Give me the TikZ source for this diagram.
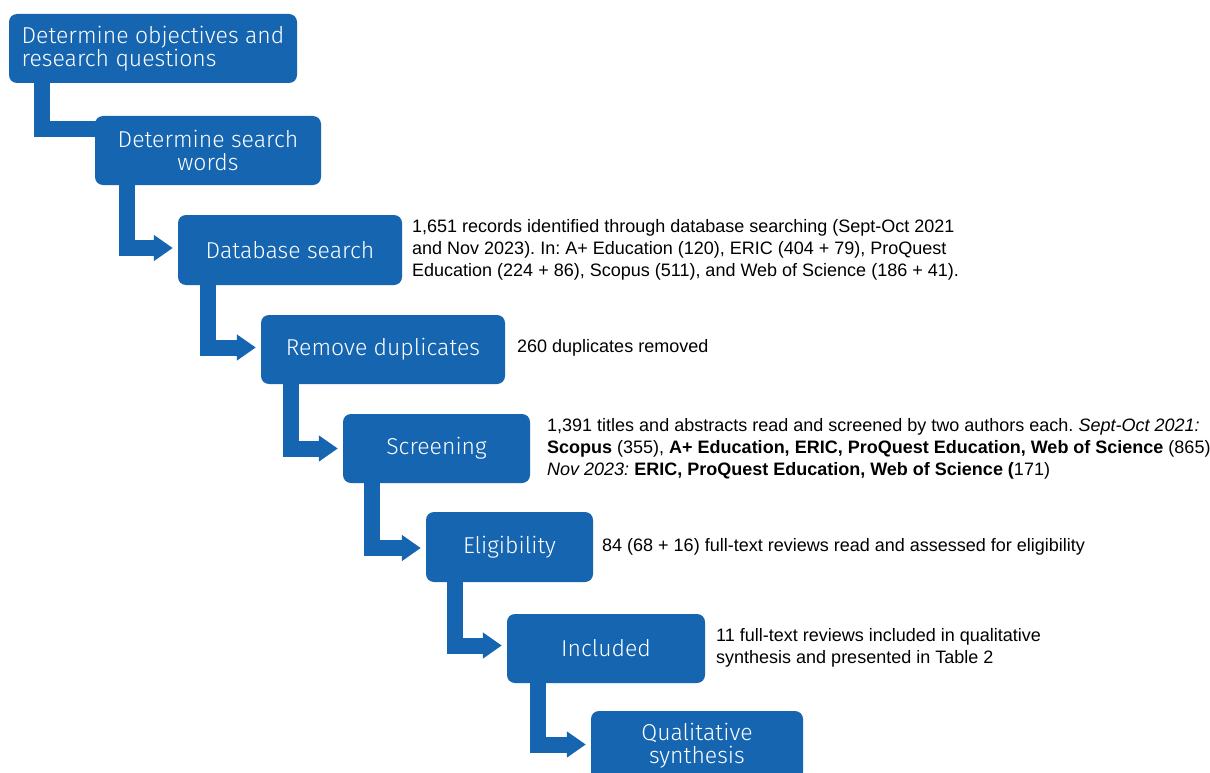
\documentclass[tikz,border=0pt]{standalone}
\usepackage{fontspec}
\setmainfont{Liberation Sans}
\newfontfamily\boxfont{Fira Sans Light}
\usetikzlibrary{arrows.meta,backgrounds}
\definecolor{flowblue}{HTML}{1565B0}
\frenchspacing
\begin{document}
\begin{tikzpicture}[x=1pt,y=-1pt,
  stepbox/.style={fill=flowblue, rounded corners=8pt, text=white, font=\boxfont\fontsize{23}{23.5}\selectfont, align=center, inner sep=0pt},
  note/.style={anchor=west, align=left, inner sep=0pt, font=\fontsize{18}{22}\selectfont},
  bar/.style={draw=flowblue, line width=16pt},
  arr/.style={bar, -{Triangle[length=19pt,width=25pt]}}]
\useasboundingbox (0,0) rectangle (1210,773);
\clip (0,0) rectangle (1210,773);

\node[stepbox, minimum width=288pt, minimum height=69pt, align=left, xshift=2pt] (b1) at (151,48.5) {Determine objectives and\\research questions};
\node[stepbox, minimum width=226pt, minimum height=69pt] (b2) at (208,150.5) {Determine search\\words};
\node[stepbox, minimum width=224pt, minimum height=70pt] (b3) at (290,250) {Database search};
\node[stepbox, minimum width=244pt, minimum height=69pt] (b4) at (383,349.5) {Remove duplicates};
\node[stepbox, minimum width=187pt, minimum height=69pt] (b5) at (436.5,448.5) {Screening};
\node[stepbox, minimum width=167pt, minimum height=70pt] (b6) at (509.5,547) {Eligibility};
\node[stepbox, minimum width=198pt, minimum height=69pt] (b7) at (606,648.5) {Included};
\node[stepbox, minimum width=212pt, minimum height=69pt] (b8) at (697,745.5) {Qualitative\\synthesis};

\begin{scope}[on background layer]
\fill[white] (0,0) rectangle (1210,773);
\draw[bar] ([xshift=33pt,yshift=5pt]b1.south west) |- ([xshift=10pt,yshift=21pt]b2.west);
\draw[arr] ([xshift=32pt,yshift=5pt]b2.south west) |- ([xshift=-5pt,yshift=2pt]b3.west);
\draw[arr] ([xshift=30pt,yshift=5pt]b3.south west) |- ([xshift=-5pt,yshift=2pt]b4.west);
\draw[arr] ([xshift=30pt,yshift=5pt]b4.south west) |- ([xshift=-5pt,yshift=0pt]b5.west);
\draw[arr] ([xshift=29pt,yshift=5pt]b5.south west) |- ([xshift=-5pt,yshift=-1pt]b6.west);
\draw[arr] ([xshift=29pt,yshift=5pt]b6.south west) |- ([xshift=-5pt,yshift=3pt]b7.west);
\draw[arr] ([xshift=31pt,yshift=5pt]b7.south west) |- ([xshift=-5pt,yshift=1pt]b8.west);
\end{scope}

\node[note] (t3) at (412,250) {1,651 records identified through database searching (Sept-Oct 2021\\and Nov 2023). In: A+ Education (120), ERIC (404 + 79), ProQuest\\Education (224 + 86), Scopus (511), and Web of Science (186 + 41).};
\node[note] (t4) at (517,348) {260 duplicates removed};
\node[note] (t5) at (547,449) {1,391 titles and abstracts read and screened by two authors each. \textit{Sept-Oct 2021:}\\\textbf{Scopus} (355), \textbf{A+ Education, ERIC, ProQuest Education, Web of Science} (865)\\\textit{Nov 2023:} \textbf{ERIC, ProQuest Education, Web of Science (}171)};
\node[note] (t6) at (602,547) {84 (68 + 16) full-text reviews read and assessed for eligibility};
\node[note] (t7) at (716,648) {11 full-text reviews included in qualitative\\synthesis and presented in Table 2};
\end{tikzpicture}
\end{document}
